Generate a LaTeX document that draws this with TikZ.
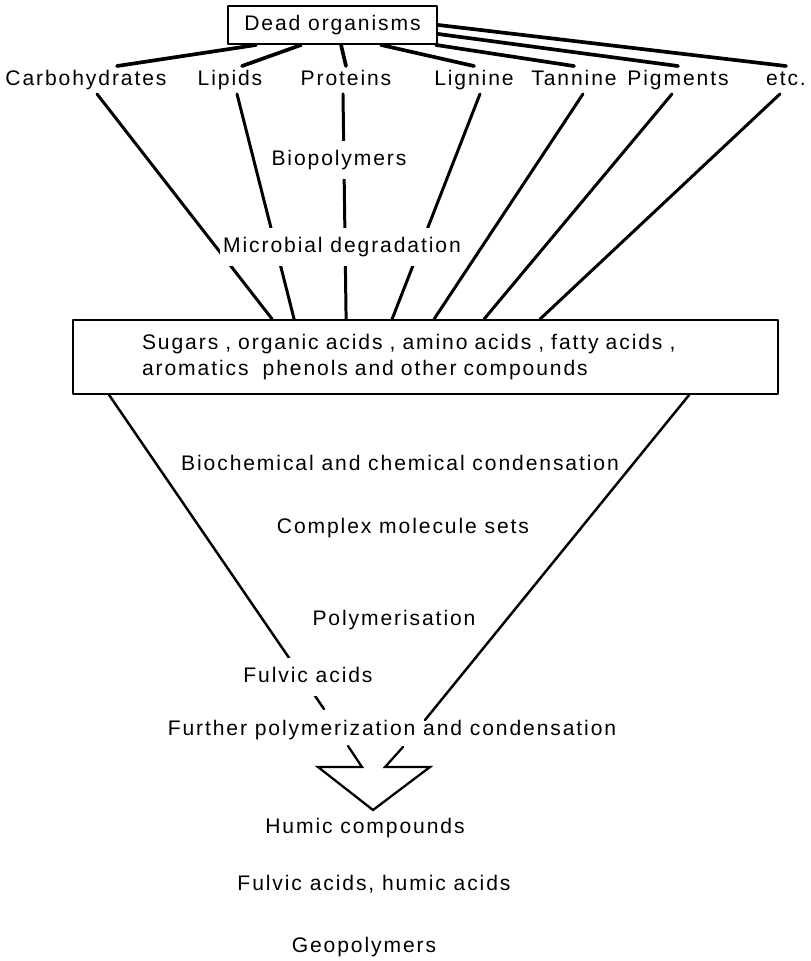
\documentclass[tikz,border=0pt]{standalone}
\usepackage{fontspec}
\setmainfont{Liberation Sans}[LetterSpace=9]
\usetikzlibrary{calc}

\begin{document}
\begin{tikzpicture}[x=0.02cm, y=-0.02cm, font=\fontsize{12}{15.3}\selectfont, line join=round, line cap=round,
  box/.style={draw, line width=1.1pt, inner sep=0pt},
  lbl/.style={inner sep=2pt, text height=9pt, text depth=2.5pt},
  gap/.style={lbl, fill=white, inner xsep=2pt, inner ysep=5pt},
  fan/.style={line width=2.1pt},
  feed/.style={line width=1.7pt},
  vline/.style={line width=1.4pt},
  arrowline/.style={line width=1.3pt, line join=miter}]
  \useasboundingbox (0,0) rectangle (811,961);
  % source box and the biopolymers
  \node[box, minimum width=4.18cm, minimum height=0.76cm] (dead) at (332.5,25) {Dead organisms};
  \node[lbl] (carb) at (86,80) {Carbohydrates};
  \node[lbl] (lip) at (230,80) {Lipids};
  \node[lbl] (prot) at (346,80) {Proteins};
  \node[lbl] (lig) at (474,80) {Lignine};
  \node[lbl] (tan) at (574,80) {Tannine};
  \node[lbl] (pig) at (678,80) {Pigments};
  \node[lbl] (etcl) at (786,80) {etc.};
  \node[box, minimum width=14.1cm, minimum height=1.48cm, text width=11.34cm, align=left] (sugars) at (425.5,357)
    {Sugars , organic acids , amino acids , fatty acids ,\\aromatics \ phenols and other compounds};
  % attachment points
  \coordinate (d1) at ($(dead.south west)+(29,0)$);
  \coordinate (d2) at ($(dead.south west)+(74,0)$);
  \coordinate (d3) at ($(dead.south west)+(114,0)$);
  \coordinate (d4) at ($(dead.south west)+(154,0)$);
  \coordinate (d5) at ($(dead.south east)+(-2,0)$);
  \coordinate (d6) at ($(dead.south east)+(0,-11)$);
  \coordinate (d7) at ($(dead.south east)+(0,-20)$);
  \foreach \i/\x in {1/200,2/222,3/274,4/320,5/362,6/412,7/468}
    \coordinate (s\i) at ($(sugars.north west)+(\x,0)$);
  \coordinate (v1) at (324,709);
  \coordinate (v2) at (425,720);
  % fan
  \draw[fan] (d1) -- ($(carb.north)+(31,0)$);
  \draw[fan] (d2) -- ($(lip.north)+(12,0)$);
  \foreach \a/\b in {d3/prot,d4/lig,d5/tan,d6/pig,d7/etcl}
    \draw[fan] (\a) -- (\b.north);
  \foreach \n/\dx/\s in {carb/11/s1,lip/7/s2,prot/-3/s3,lig/6/s4,tan/9/s5,pig/-6/s6,etcl/-6/s7}
    \draw[feed] ($(\n.south)+(\dx,0)$) -- (\s);
  \draw[vline] ($(sugars.south west)+(37,0)$) -- (v1);
  \draw[vline] ($(sugars.south west)+(617,0)$) -- (v2);
  % texts on the way
  \node[gap] (bio) at (339,160) {Biopolymers};
  \node[gap] (micro) at (342,247) {Microbial degradation};
  \node[lbl] (biochem) at (400,465) {Biochemical and chemical condensation};
  \node[lbl] (complex) at (403,528) {Complex molecule sets};
  \node[lbl] (poly) at (394,620) {Polymerisation};
  \node[gap] (fulvic) at (308,677) {Fulvic acids};
  \node[lbl] (further) at (392,730) {Further polymerization and condensation};
  \draw[arrowline] (348,746) -- (362,767) -- (318,767) -- (373,810) -- (430,767) -- (385,767) -- (403,747);
  \node[lbl] (humic) at (365,828) {Humic compounds};
  \node[lbl] (fha) at (374,885) {Fulvic acids, humic acids};
  \node[lbl] (geo) at (364,947) {Geopolymers};
\end{tikzpicture}
\end{document}
